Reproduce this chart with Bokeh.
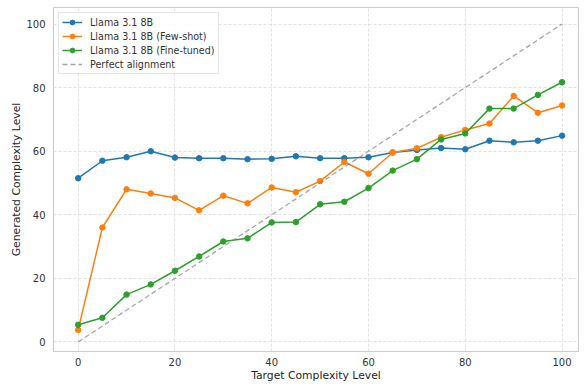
from bokeh.plotting import figure
from bokeh.models import Range1d, Legend, FixedTicker
from bokeh.embed import file_html
from bokeh.resources import INLINE

x_levels = [0, 5, 10, 15, 20, 25, 30, 35, 40, 45, 50, 55, 60, 65, 70, 75, 80, 85, 90, 95, 100]
base = [51.5, 57.0, 58.1, 60.0, 58.0, 57.8, 57.8, 57.5, 57.6, 58.4, 57.8, 57.8, 58.1, 59.6, 60.4, 61.0, 60.6, 63.3, 62.8, 63.3, 64.9]
few_shot = [3.8, 36.0, 48.0, 46.7, 45.3, 41.4, 46.0, 43.6, 48.6, 47.1, 50.6, 56.6, 52.9, 59.6, 60.9, 64.4, 66.7, 68.7, 77.4, 72.1, 74.4]
fine_tuned = [5.4, 7.6, 14.9, 18.1, 22.4, 26.9, 31.6, 32.6, 37.6, 37.7, 43.3, 44.1, 48.4, 53.9, 57.5, 63.7, 65.6, 73.4, 73.4, 77.7, 81.7]
ideal_x = [0, 100]
ideal_y = [0, 100]
series_names = ["Llama 3.1 8B", "Llama 3.1 8B (Few-shot)", "Llama 3.1 8B (Fine-tuned)"]
series_colors = ["#1f77b4", "#ff7f0e", "#2ca02c"]
ticks = [0, 20, 40, 60, 80, 100]

FONT = "DejaVu Sans"

p = figure(width=579, height=384, output_backend="svg", toolbar_location=None,
           x_range=Range1d(-5.1, 103.4), y_range=Range1d(-3.0, 105.2),
           min_border_left=53, min_border_right=1, min_border_top=7, min_border_bottom=31)
p.background_fill_color = "white"
p.border_fill_color = "white"
p.outline_line_color = "#cccccc"
p.outline_line_width = 1.2

for ax in (p.xaxis, p.yaxis):
    ax.ticker = FixedTicker(ticks=ticks)
    ax.axis_line_color = None
    ax.major_tick_line_color = None
    ax.minor_tick_line_color = None
    ax.major_tick_out = 0
    ax.major_tick_in = 0
    ax.minor_tick_out = 0
    ax.minor_tick_in = 0
    ax.major_label_text_font = FONT
    ax.major_label_text_font_size = "10px"
    ax.major_label_text_color = "#333333"
    ax.axis_label_text_font = FONT
    ax.axis_label_text_font_size = "10.8px"
    ax.axis_label_text_font_style = "normal"
    ax.axis_label_text_color = "#262626"

p.xaxis.axis_label = "Target Complexity Level"
p.yaxis.axis_label = "Generated Complexity Level"
p.xaxis.major_label_standoff = 6
p.yaxis.major_label_standoff = 8
p.xaxis.axis_label_standoff = 0
p.yaxis.axis_label_standoff = 0

p.grid.grid_line_color = "#d9d9d9"
p.grid.grid_line_dash = "3 2"
p.grid.grid_line_width = 0.8

items = []
for name, ys, col in zip(series_names, [base, few_shot, fine_tuned], series_colors):
    r1 = p.line(x_levels, ys, line_color=col, line_width=1.5)
    r2 = p.scatter(x_levels, ys, size=5.5, fill_color=col, line_color=col)
    items.append((name, [r1, r2]))

r3 = p.line(ideal_x, ideal_y, line_color="#808080", line_alpha=0.7, line_width=1.3, line_dash="5 3")
items.append(("Perfect alignment", [r3]))

legend = Legend(items=items, location="top_left")
legend.label_text_font = FONT
legend.label_text_font_size = "9.6px"
legend.label_text_color = "#333333"
legend.glyph_width = 20
legend.glyph_height = 12
legend.label_height = 12
legend.spacing = 2
legend.padding = 3
legend.margin = 5
legend.label_standoff = 8
legend.border_line_color = "#cccccc"
legend.border_line_width = 1
legend.background_fill_alpha = 0.85
p.add_layout(legend)

open("out.html", "w").write(file_html(p, INLINE))
